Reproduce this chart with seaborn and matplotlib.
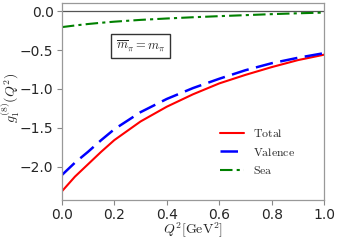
import numpy as np
import pandas as pd
import matplotlib
matplotlib.use("Agg")
import matplotlib.pyplot as plt
import seaborn as sns

# Q^2 grid in GeV^2
q2 = [0.0, 0.05, 0.1, 0.15, 0.2, 0.3, 0.4, 0.5, 0.6, 0.7, 0.8, 0.9, 1.0]
# curves
total = [-2.32, -2.13, -1.97, -1.81, -1.66, -1.42, -1.23, -1.07, -0.93, -0.82, -0.72, -0.63, -0.56]
valence = [-2.11, -1.95, -1.81, -1.66, -1.52, -1.30, -1.13, -0.99, -0.87, -0.76, -0.67, -0.60, -0.54]
sea = [-0.205, -0.184, -0.165, -0.149, -0.135, -0.112, -0.094, -0.078, -0.064, -0.051, -0.038, -0.027, -0.018]

sns.set_style("ticks")
plt.rcParams["font.family"] = ["DejaVu Sans"]
plt.rcParams["mathtext.fontset"] = "cm"

df = pd.DataFrame({"q2": q2, "Total": total, "Valence": valence, "Sea": sea})

fig = plt.figure(figsize=(3.38, 2.40), dpi=100)
ax = fig.add_axes([0.183, 0.167, 0.776, 0.821])

ax.axhline(0.0, color="#555555", lw=0.9)
sns.lineplot(data=df, x="q2", y="Total", ax=ax, color="red", lw=1.5,
             label=r"$\mathrm{Total}$")
sns.lineplot(data=df, x="q2", y="Valence", ax=ax, color="blue", lw=1.8,
             label=r"$\mathrm{Valence}$", dashes=False)
ax.lines[-1].set_dashes((7, 3))
sns.lineplot(data=df, x="q2", y="Sea", ax=ax, color="green", lw=1.5,
             label=r"$\mathrm{Sea}$")
ax.lines[-1].set_dashes((6, 2, 1.5, 2))

ax.set_xlim(0, 1.0)
ax.set_ylim(-2.43, 0.107)
ax.set_xticks([0.0, 0.2, 0.4, 0.6, 0.8, 1.0])
ax.set_yticks([0.0, -0.5, -1.0, -1.5, -2.0])
ax.tick_params(labelsize=10, color="#888888", length=3.5, width=0.8, pad=2.5)
for s in ax.spines.values():
    s.set_color("#999999")
    s.set_linewidth(0.9)

ax.set_xlabel(r"$Q^2[\mathrm{GeV}^2]$", fontsize=10)
ax.set_ylabel(r"$g_1^{(8)}(Q^2)$", fontsize=10)
ax.xaxis.set_label_coords(0.50, -0.108)
ax.yaxis.set_label_coords(-0.152, 0.52)

ax.text(0.30, 0.78, r"$\overline{m}_\pi = m_\pi$", transform=ax.transAxes,
        fontsize=9, ha="center", va="center",
        bbox=dict(boxstyle="square,pad=0.35", fc="white", ec="#333333", lw=1.0))

leg = ax.legend(loc="lower right", frameon=False, fontsize=8.5,
                bbox_to_anchor=(0.93, 0.06), handlelength=2.0, handletextpad=0.8)

fig.savefig("out.png", dpi=100)
